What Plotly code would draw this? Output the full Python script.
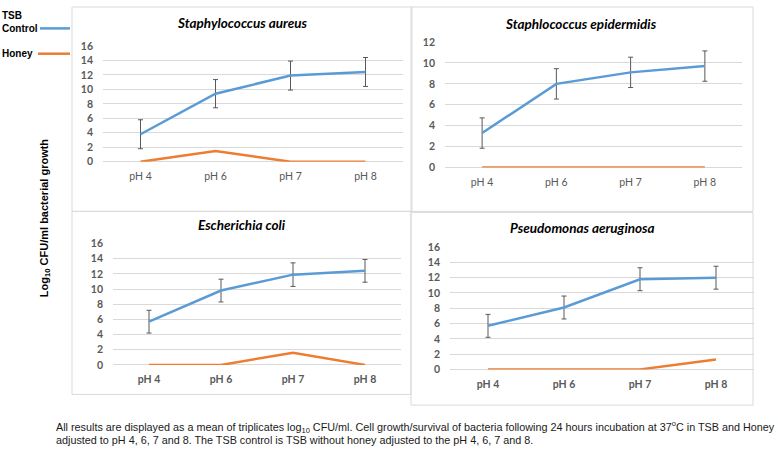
import plotly.graph_objects as go

W, H = 778, 452

categories = ["pH 4", "pH 6", "pH 7", "pH 8"]

sa_tsb = [3.8, 9.4, 11.9, 12.4]
sa_err = [2.0, 1.95, 2.0, 2.0]
sa_honey = [0, 1.5, 0, 0]

se_tsb = [3.3, 8.0, 9.1, 9.7]
se_err = [1.45, 1.45, 1.45, 1.45]
se_honey = [0, 0, 0, 0]

ec_tsb = [5.7, 9.8, 11.9, 12.4]
ec_err = [1.5, 1.5, 1.55, 1.5]
ec_honey = [0, 0, 1.6, 0]

pa_tsb = [5.7, 8.1, 11.8, 12.0]
pa_err = [1.5, 1.5, 1.5, 1.5]
pa_honey = [0, 0, 0, 1.3]

titles = ["Staphylococcus aureus", "Staphlococcus epidermidis",
          "Escherichia coli", "Pseudomonas aeruginosa"]
y_max = [16, 12, 16, 16]

BLUE = "#5b9bd5"
ORANGE = "#ed7d31"
GRID = "#d9d9d9"
TICK = "#595959"
FONT = "Lato, Liberation Sans, sans-serif"
ARIAL = "Liberation Sans, Arial, sans-serif"

# panel layout in pixels: (plot x0, x1, y_zero_px, y_top_px, box x0, x1, y0, y1, title x, title y, xbold)
panels = [
    (103, 403, 160.0, 41.0, 72, 412, 1, 211, 242, 17, False),
    (445, 742, 166.0, 37.0, 411, 753, 1, 211, 581, 18, False),
    (113, 401, 368.7, 244.0, 72, 411, 211, 399, 242, 225, True),
    (450, 754, 373.3, 247.7, 411, 753, 212, 410, 582, 228, True),
]

data = [(sa_tsb, sa_err, sa_honey), (se_tsb, se_err, se_honey),
        (ec_tsb, ec_err, ec_honey), (pa_tsb, pa_err, pa_honey)]

fig = go.Figure()

def px(x):
    return x / W

def py(y):
    return 1 - y / H

shapes = []
annotations = []

for i, (p, d) in enumerate(zip(panels, data)):
    x0, x1, yz, yt, bx0, bx1, by0, by1, tx, ty, xbold = p
    tsb, err, honey = d
    n = i + 1
    xa = "x" if n == 1 else f"x{n}"
    ya = "y" if n == 1 else f"y{n}"
    fig.add_trace(go.Scatter(
        x=categories, y=tsb, mode="lines", xaxis=xa, yaxis=ya,
        line=dict(color=BLUE, width=2.5), showlegend=False,
        error_y=dict(type="data", array=err, visible=True, color=TICK,
                     thickness=1, width=2.5),
        cliponaxis=False,
    ))
    fig.add_trace(go.Scatter(
        x=categories, y=honey, mode="lines", xaxis=xa, yaxis=ya,
        line=dict(color=ORANGE, width=2.5), showlegend=False,
        cliponaxis=False,
    ))
    xkey = "xaxis" if n == 1 else f"xaxis{n}"
    ykey = "yaxis" if n == 1 else f"yaxis{n}"
    fig.layout[xkey] = dict(
        domain=[px(x0), px(x1)], anchor=ya, range=[-0.5, 3.5],
        type="category", showgrid=False, zeroline=False,
        showline=False, ticks="", ticklabelstandoff=7,
        tickfont=dict(family=FONT, size=10.5, color=TICK,
                      weight="bold" if xbold else "normal"),
    )
    fig.layout[ykey] = dict(
        domain=[py(yz), py(yt)], anchor=xa, range=[0, y_max[i]],
        dtick=2, showgrid=True, gridcolor=GRID, gridwidth=1,
        zeroline=True, zerolinecolor=GRID, zerolinewidth=1,
        showline=False, ticks="", ticklabelstandoff=9,
        tickfont=dict(family=FONT, size=10.5, color=TICK, weight="bold"),
    )
    shapes.append(dict(type="rect", xref="paper", yref="paper",
                       x0=px(bx0), x1=px(bx1), y0=py(by1), y1=py(by0),
                       line=dict(color=GRID, width=1), layer="below"))
    annotations.append(dict(
        text=f"<b><i>{titles[i]}</i></b>", x=px(tx), y=py(ty),
        xref="paper", yref="paper", showarrow=False,
        xanchor="center", yanchor="middle",
        font=dict(family=FONT, size=13.5, color="black")))

# legend
annotations += [
    dict(text="<b>TSB</b>", x=px(0), y=py(10), xref="paper", yref="paper",
         showarrow=False, xanchor="left", yanchor="middle",
         font=dict(family=ARIAL, size=10, color="black")),
    dict(text="<b>Control</b>", x=px(0), y=py(23), xref="paper", yref="paper",
         showarrow=False, xanchor="left", yanchor="middle",
         font=dict(family=ARIAL, size=10, color="black")),
    dict(text="<b>Honey</b>", x=px(0), y=py(49), xref="paper", yref="paper",
         showarrow=False, xanchor="left", yanchor="middle",
         font=dict(family=ARIAL, size=10, color="black")),
]
shapes += [
    dict(type="line", xref="paper", yref="paper", x0=px(40), x1=px(70),
         y0=py(23), y1=py(23), line=dict(color=BLUE, width=2.5)),
    dict(type="line", xref="paper", yref="paper", x0=px(38), x1=px(70),
         y0=py(49), y1=py(49), line=dict(color=ORANGE, width=2.5)),
]

# y axis title
annotations.append(dict(
    text="<b>Log<sub>10</sub> CFU/ml bacterial growth</b>",
    x=px(45), y=py(218), xref="paper", yref="paper", showarrow=False,
    textangle=-90, xanchor="center", yanchor="middle",
    font=dict(family=ARIAL, size=11, color="black")))

# caption
annotations += [
    dict(text="All results are displayed as a mean of triplicates log<sub>10</sub> CFU/ml. "
              "Cell growth/survival of bacteria following 24 hours incubation at 37<sup>o</sup>C "
              "in TSB and Honey",
         x=px(54), y=py(432), xref="paper", yref="paper", showarrow=False,
         xanchor="left", yanchor="middle",
         font=dict(family=ARIAL, size=10.8, color="#1a1a1a")),
    dict(text="adjusted to pH 4, 6, 7 and 8. The TSB control is TSB without honey "
              "adjusted to the pH 4, 6, 7 and 8.",
         x=px(54), y=py(446), xref="paper", yref="paper", showarrow=False,
         xanchor="left", yanchor="middle",
         font=dict(family=ARIAL, size=10.8, color="#1a1a1a")),
]

fig.update_layout(
    width=W, height=H, margin=dict(l=0, r=0, t=0, b=0),
    paper_bgcolor="white", plot_bgcolor="white",
    shapes=shapes, annotations=annotations, showlegend=False,
)

fig.write_html("out.html")
